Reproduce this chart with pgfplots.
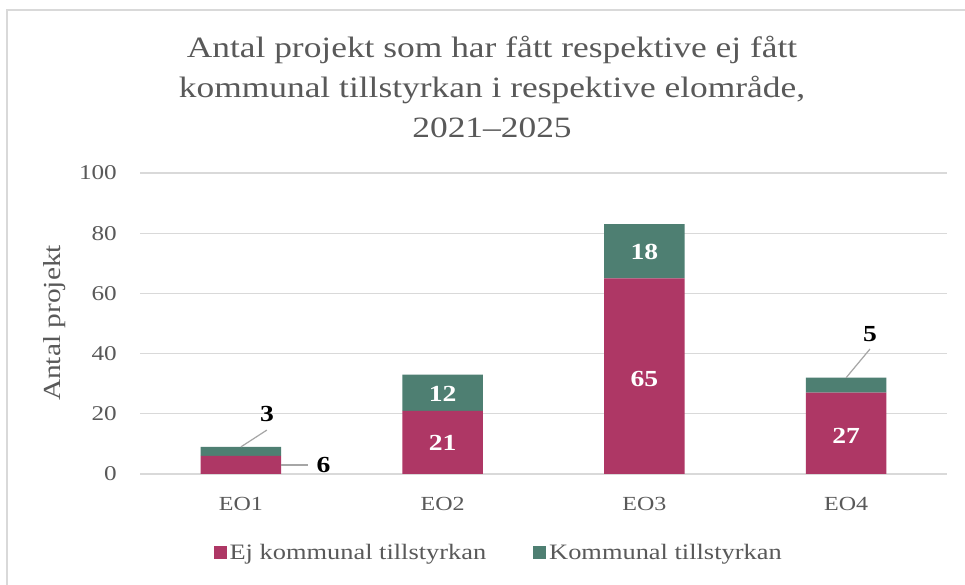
\documentclass[border=0pt]{standalone}
\usepackage{pgfplots}
\pgfplotsset{compat=1.18}
\usepackage{fontspec}
\setmainfont{Liberation Serif}[FakeStretch=1.2]
\definecolor{txt}{HTML}{595959}
\definecolor{gridc}{HTML}{D9D9D9}
\definecolor{framec}{HTML}{D9D9D9}
\definecolor{ejc}{HTML}{AE3765}
\definecolor{komc}{HTML}{4E7F72}
\definecolor{leadc}{HTML}{A6A6A6}
\tikzset{dl/.style={font=\bfseries\fontsize{23bp}{23bp}\selectfont},
  lead/.style={leadc, line width=1.2bp}}
\pgfplotsset{sqlegend/.style={legend image code/.code={\fill[##1,draw=none] (0bp,-6.5bp) rectangle (13bp,6.5bp);}}}
\begin{document}
\begin{tikzpicture}[x=1bp,y=1bp]
\useasboundingbox (0,0) rectangle (965,585);
\fill[white] (0,0) rectangle (965,585);
\draw[color=framec, line width=1.5bp] (7,0) -- (7,575) -- (965,575);
\node[text=txt, align=center, font=\fontsize{29.5bp}{40bp}\selectfont] at (492,498)
  {Antal projekt som har fått respektive ej fått\\kommunal tillstyrkan i respektive elområde,\\2021--2025};
\node[rotate=90, text=txt, font=\fontsize{24.5bp}{28bp}\selectfont] at (55,262) {Antal projekt};
\begin{axis}[
  at={(140bp,111bp)}, anchor=south west,
  scale only axis, width=807bp, height=301bp,
  xmin=-0.5, xmax=3.5, ymin=0, ymax=100,
  ybar stacked, bar width=0.4,
  axis line style={draw=none},
  ymajorgrids, grid style={gridc, line width=1.3bp},
  xtick={0,1,2,3}, xticklabels={EO1,EO2,EO3,EO4},
  ytick={0,20,40,60,80,100},
  major tick length=0pt,
  /pgf/number format/assume math mode=true,
  xticklabel style={inner sep=0pt, anchor=north, yshift=-23bp, text=txt, font=\fontsize{20bp}{20bp}\selectfont},
  yticklabel style={inner sep=0pt, anchor=east, xshift=-23bp, text=txt, font=\fontsize{21bp}{21bp}\selectfont},
  clip=false,
  legend columns=2,
  legend style={at={(rel axis cs:0.445,-0.262)}, anchor=center, draw=none, fill=none,
    font=\fontsize{22bp}{22bp}\selectfont, text=txt, inner sep=0pt,
    nodes={inner sep=3bp},
    /tikz/every even column/.append style={column sep=44bp}},
  sqlegend,
]
\addplot[fill=ejc, draw=none] coordinates {(0,6) (1,21) (2,65) (3,27)};
\addplot[fill=komc, draw=none] coordinates {(0,3) (1,12) (2,18) (3,5)};
\legend{Ej kommunal tillstyrkan, Kommunal tillstyrkan}
\coordinate (a) at (axis cs:1,10.3);
\coordinate (b) at (axis cs:1,26.5);
\coordinate (c) at (axis cs:2,31.5);
\coordinate (d) at (axis cs:2,73.8);
\coordinate (e) at (axis cs:3,12.5);
\coordinate (l1a) at (axis cs:0,9);
\coordinate (l1b) at (axis cs:0.129,14.6);
\coordinate (t3) at (axis cs:0.129,19.8);
\coordinate (l2a) at (axis cs:0.2,3);
\coordinate (l2b) at (axis cs:0.333,3);
\coordinate (t6) at (axis cs:0.41,3);
\coordinate (l3a) at (axis cs:3,32);
\coordinate (l3b) at (axis cs:3.118,41.5);
\coordinate (t5) at (axis cs:3.118,46.6);
\end{axis}
\node[dl, white] at (a) {21};
\node[dl, white] at (b) {12};
\node[dl, white] at (c) {65};
\node[dl, white] at (d) {18};
\node[dl, white] at (e) {27};
\draw[lead] (l1a) -- (l1b);
\node[dl, black] at (t3) {3};
\draw[lead] (l2a) -- (l2b);
\node[dl, black] at (t6) {6};
\draw[lead] (l3a) -- (l3b);
\node[dl, black] at (t5) {5};
\end{tikzpicture}
\end{document}
